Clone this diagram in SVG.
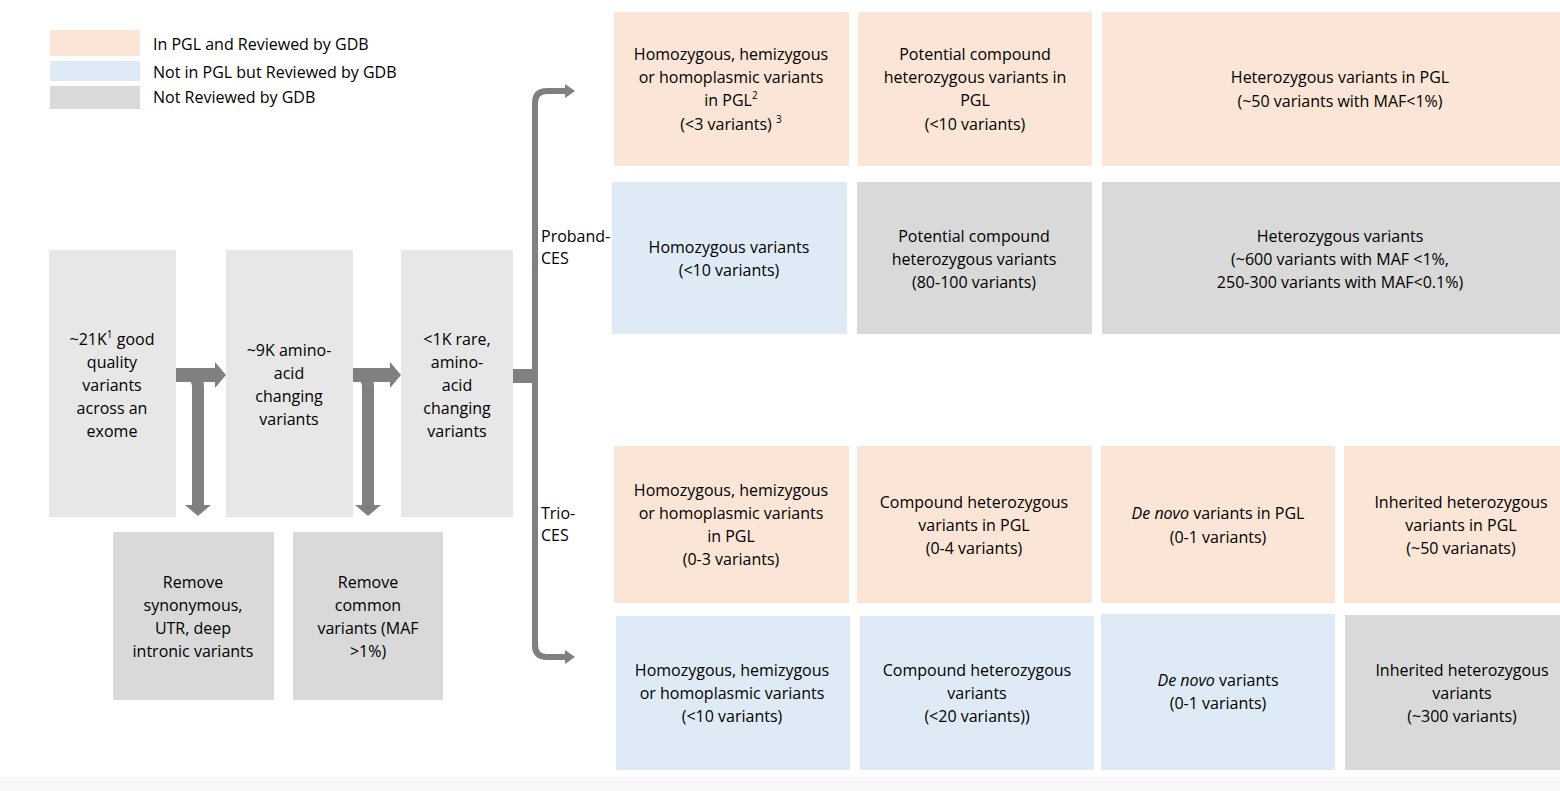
<svg xmlns="http://www.w3.org/2000/svg" width="1560" height="791" viewBox="0 0 1560 791">
<style>
text{font-family:"Open Sans","Liberation Sans",sans-serif;font-size:16px;fill:#000000;text-anchor:middle}
.lg{font-size:16px;text-anchor:start}
.lab{text-anchor:start}
.pe{fill:#fbe5d6}
.bl{fill:#deebf7}
.gr{fill:#d9d9d9}
.lt{fill:#e7e7e7}
.sup{font-size:10px}
.it{font-style:italic}
.thick{fill:none;stroke:#808080;stroke-width:14}
.stem{fill:none;stroke:#808080;stroke-width:12}
.thin{fill:none;stroke:#808080;stroke-width:6}
</style>
<defs>
<marker id="hb" markerUnits="userSpaceOnUse" markerWidth="12" markerHeight="26" refX="0" refY="13" orient="auto"><path d="M0,0 L11,13 L0,26 z" fill="#808080"/></marker>
<marker id="hs" markerUnits="userSpaceOnUse" markerWidth="11" markerHeight="16" refX="0" refY="8" orient="auto"><path d="M0,1 L10,8 L0,15 z" fill="#808080"/></marker>
</defs>
<rect x="0" y="0" width="1560" height="791" fill="#ffffff"/>
<rect x="0" y="777" width="1560" height="14" fill="#f8f8f8"/>

<g id="legend">
<rect class="pe" x="50" y="30" width="90" height="26"/>
<rect class="bl" x="50" y="61" width="90" height="20"/>
<rect class="gr" x="50" y="86" width="90" height="23"/>
<text class="lg" x="153" y="50">In PGL and Reviewed by GDB</text>
<text class="lg" x="153" y="78">Not in PGL but Reviewed by GDB</text>
<text class="lg" x="153" y="103">Not Reviewed by GDB</text>
</g>

<g id="connectors">
<path class="thick" d="M176 375 H215" marker-end="url(#hb)"/>
<path class="stem" d="M180 375 H186 Q198 375 198 387 V505" marker-end="url(#hb)"/>
<path class="thick" d="M353 375 H390" marker-end="url(#hb)"/>
<path class="stem" d="M357 375 H356 Q368 375 368 387 V505" marker-end="url(#hb)"/>
<path class="thick" d="M513 376 H536"/>
<path class="thin" d="M535 379 V103 Q535 91 547 91 H565" marker-end="url(#hs)"/>
<path class="thin" d="M535 373 V645 Q535 657 547 657 H565" marker-end="url(#hs)"/>
</g>

<g id="n-21k">
<rect class="lt" x="49" y="250" width="127" height="267"/>
<text x="112" y="345">~21K<tspan class="sup" dy="-7">1</tspan><tspan dy="7"> good</tspan></text>
<text x="112" y="368">quality</text>
<text x="112" y="391">variants</text>
<text x="112" y="414">across an</text>
<text x="112" y="437">exome</text>
</g>
<g id="n-9k">
<rect class="lt" x="226" y="250" width="127" height="267"/>
<text x="289" y="356">~9K amino-</text>
<text x="289" y="379">acid</text>
<text x="289" y="402">changing</text>
<text x="289" y="425">variants</text>
</g>
<g id="n-1k">
<rect class="lt" x="401" y="250" width="112" height="267"/>
<text x="457" y="345">&lt;1K rare,</text>
<text x="457" y="368">amino-</text>
<text x="457" y="391">acid</text>
<text x="457" y="414">changing</text>
<text x="457" y="437">variants</text>
</g>
<g id="n-rm1">
<rect class="gr" x="113" y="532" width="161" height="168"/>
<text x="193" y="588">Remove</text>
<text x="193" y="611">synonymous,</text>
<text x="193" y="634">UTR, deep</text>
<text x="193" y="657">intronic variants</text>
</g>
<g id="n-rm2">
<rect class="gr" x="293" y="532" width="150" height="168"/>
<text x="368" y="588">Remove</text>
<text x="368" y="611">common</text>
<text x="368" y="634">variants (MAF</text>
<text x="368" y="657">&gt;1%)</text>
</g>

<g id="lab-proband">
<text class="lab" x="541" y="242">Proband-</text>
<text class="lab" x="541" y="264">CES</text>
</g>
<g id="lab-trio">
<text class="lab" x="541" y="519">Trio-</text>
<text class="lab" x="541" y="541">CES</text>
</g>

<g id="p-hom">
<rect class="pe" x="614" y="12" width="235" height="154"/>
<text x="731" y="60">Homozygous, hemizygous</text>
<text x="731" y="83">or homoplasmic variants</text>
<text x="731" y="106">in PGL<tspan class="sup" dy="-7">2</tspan></text>
<text x="731" y="130">(&lt;3 variants) <tspan class="sup" dy="-7">3</tspan></text>
</g>
<g id="p-comp">
<rect class="pe" x="858" y="12" width="234" height="154"/>
<text x="975" y="60">Potential compound</text>
<text x="975" y="83">heterozygous variants in</text>
<text x="975" y="106">PGL</text>
<text x="975" y="130">(&lt;10 variants)</text>
</g>
<g id="p-het">
<rect class="pe" x="1102" y="12" width="470" height="154"/>
<text x="1340" y="83">Heterozygous variants in PGL</text>
<text x="1340" y="107">(~50 variants with MAF&lt;1%)</text>
</g>

<g id="p2-hom">
<rect class="bl" x="612" y="182" width="235" height="152"/>
<text x="729" y="253">Homozygous variants</text>
<text x="729" y="276">(&lt;10 variants)</text>
</g>
<g id="p2-comp">
<rect class="gr" x="857" y="182" width="235" height="152"/>
<text x="974" y="242">Potential compound</text>
<text x="974" y="265">heterozygous variants</text>
<text x="974" y="288">(80-100 variants)</text>
</g>
<g id="p2-het">
<rect class="gr" x="1102" y="182" width="470" height="152"/>
<text x="1340" y="242">Heterozygous variants</text>
<text x="1340" y="265">(~600 variants with MAF &lt;1%,</text>
<text x="1340" y="288">250-300 variants with MAF&lt;0.1%)</text>
</g>

<g id="t-hom">
<rect class="pe" x="614" y="446" width="235" height="157"/>
<text x="731" y="496">Homozygous, hemizygous</text>
<text x="731" y="519">or homoplasmic variants</text>
<text x="731" y="542">in PGL</text>
<text x="731" y="565">(0-3 variants)</text>
</g>
<g id="t-comp">
<rect class="pe" x="857" y="446" width="235" height="157"/>
<text x="974" y="508">Compound heterozygous</text>
<text x="974" y="531">variants in PGL</text>
<text x="974" y="554">(0-4 variants)</text>
</g>
<g id="t-denovo">
<rect class="pe" x="1101" y="446" width="234" height="157"/>
<text x="1218" y="519"><tspan class="it">De novo</tspan> variants in PGL</text>
<text x="1218" y="543">(0-1 variants)</text>
</g>
<g id="t-inh">
<rect class="pe" x="1344" y="446" width="228" height="157"/>
<text x="1461" y="508">Inherited heterozygous</text>
<text x="1461" y="531">variants in PGL</text>
<text x="1461" y="554">(~50 varianats)</text>
</g>

<g id="t2-hom">
<rect class="bl" x="616" y="616" width="234" height="154"/>
<text x="732" y="676">Homozygous, hemizygous</text>
<text x="732" y="699">or homoplasmic variants</text>
<text x="732" y="722">(&lt;10 variants)</text>
</g>
<g id="t2-comp">
<rect class="bl" x="860" y="616" width="234" height="154"/>
<text x="977" y="676">Compound heterozygous</text>
<text x="977" y="699">variants</text>
<text x="977" y="722">(&lt;20 variants))</text>
</g>
<g id="t2-denovo">
<rect class="bl" x="1101" y="614" width="234" height="156"/>
<text x="1218" y="686"><tspan class="it">De novo</tspan> variants</text>
<text x="1218" y="709">(0-1 variants)</text>
</g>
<g id="t2-inh">
<rect class="gr" x="1345" y="615" width="227" height="155"/>
<text x="1462" y="676">Inherited heterozygous</text>
<text x="1462" y="699">variants</text>
<text x="1462" y="722">(~300 variants)</text>
</g>
</svg>
